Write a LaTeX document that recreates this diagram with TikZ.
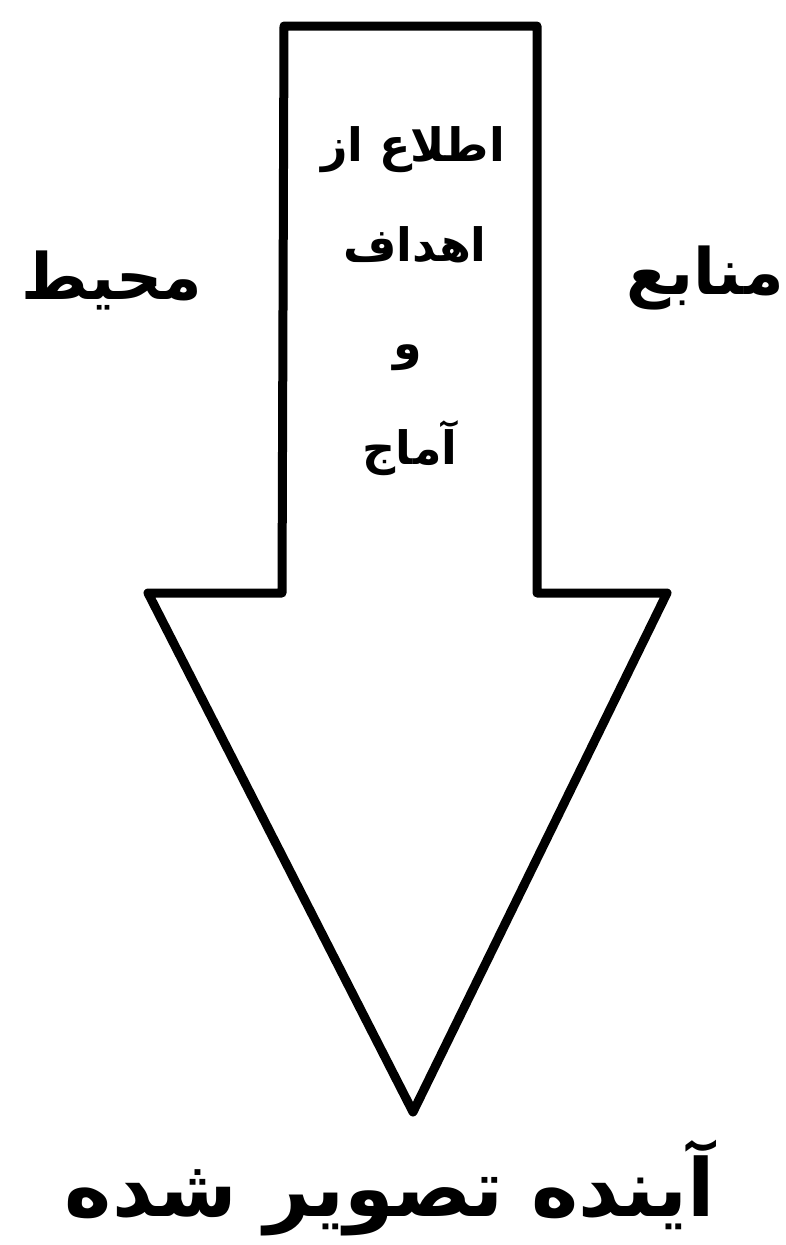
\documentclass[tikz,border=0pt]{standalone}
\usepackage{fontspec}
\newfontfamily\arabicfont[Script=Arabic]{DejaVu Sans}
\TeXXeTstate=1
\begin{document}
\begin{tikzpicture}[x=1pt,y=-1pt,
  arrowshape/.style={draw=black,line width=9pt,line join=round,fill=white},
  inner/.style={font=\arabicfont\bfseries\fontsize{46}{52}\selectfont,inner sep=0pt},
  side/.style={font=\arabicfont\bfseries\fontsize{64}{72}\selectfont,inner sep=0pt},
  bottom/.style={font=\arabicfont\bfseries\fontsize{80}{90}\selectfont,inner sep=0pt}]
\useasboundingbox (0,0) rectangle (785,1245);
\fill[white] (0,0) rectangle (785,1245);
\draw[arrowshape] (284,26) -- (537,26) -- (537,593) -- (667,593) -- (413,1112) -- (148,593) -- (282,593) -- cycle;
\node[inner] (t1) at (413,150) {\beginR اطلاع از\endR};
\node[inner] (t2) at (415,245) {\beginR اهداف\endR};
\node[inner] (t3) at (408,358) {\beginR و\endR};
\node[inner] (t4) at (410,448) {\beginR آماج\endR};
\node[side] (left) at (112,280) {\beginR محیط\endR};
\node[side] (right) at (705,278) {\beginR منابع\endR};
\node[bottom] (fut) at (390,1188) {\beginR آینده تصویر شده\endR};
\end{tikzpicture}
\end{document}
